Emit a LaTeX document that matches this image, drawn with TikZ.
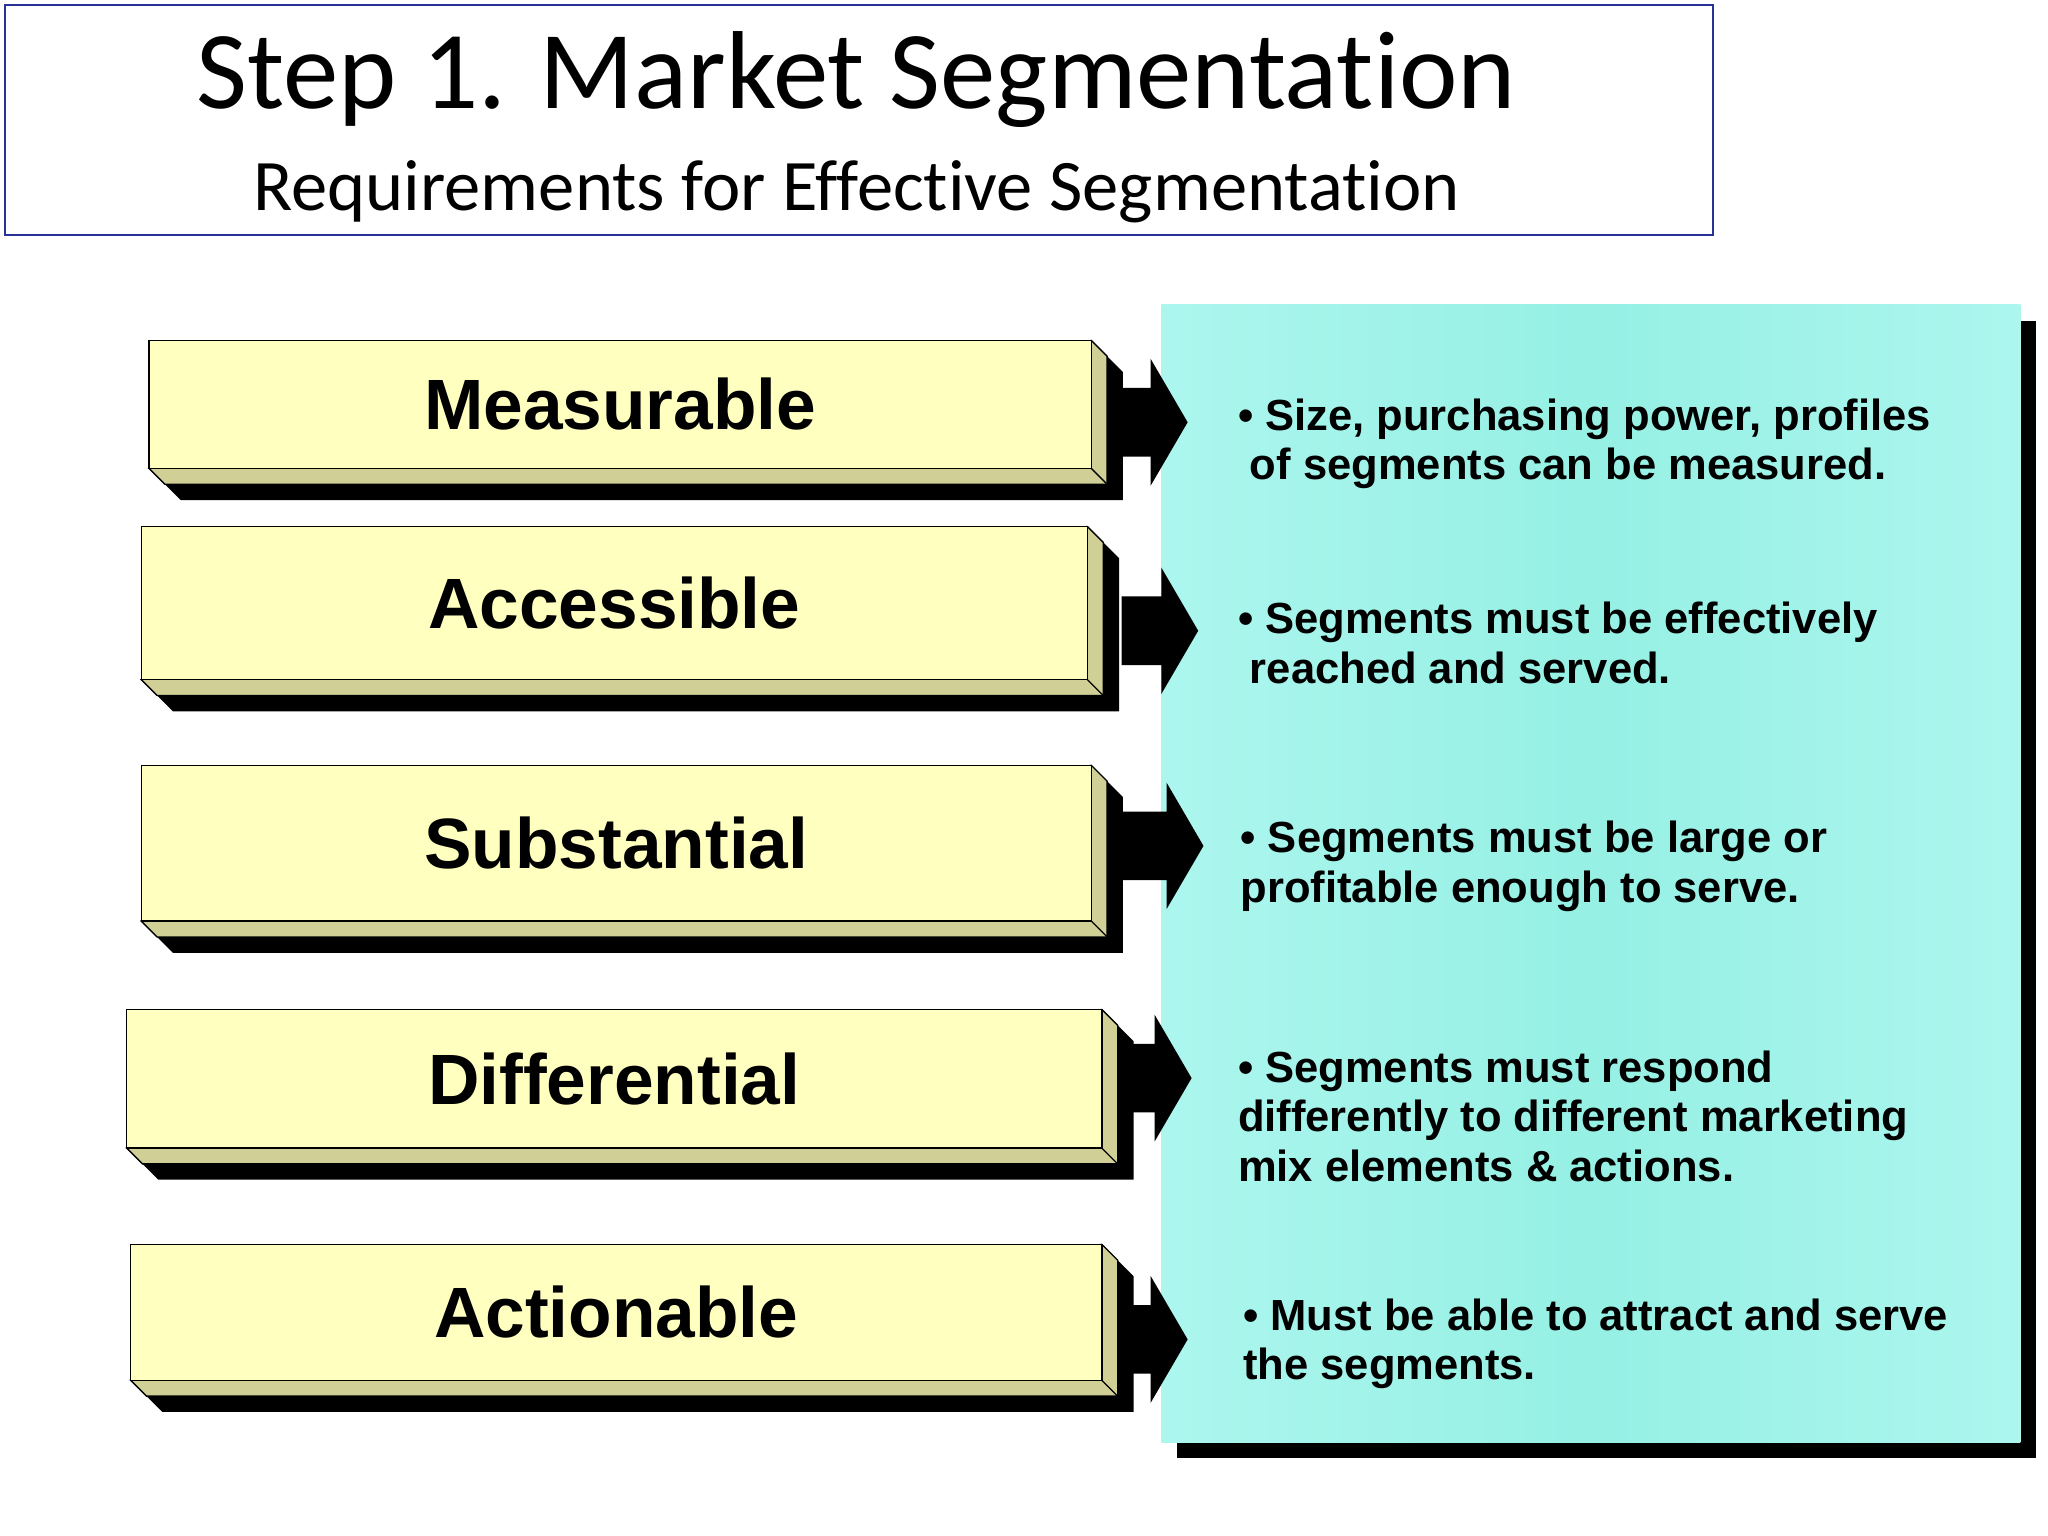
\documentclass[tikz,border=0pt]{standalone}
\usepackage{fontspec}
\setmainfont[Ligatures=NoCommon]{Carlito}
\newfontfamily\arial{Liberation Sans}
\definecolor{tboxblue}{RGB}{40,50,150}
\definecolor{cyanbox}{RGB}{150,240,228}
\definecolor{cyanlight}{RGB}{172,246,238}
\definecolor{barfront}{RGB}{255,255,192}
\definecolor{barside}{RGB}{208,208,150}
\begin{document}
\begin{tikzpicture}[x=1pt,y=-1pt,
  lbl/.style={font=\arial\bfseries\fontsize{54}{60}\selectfont},
  desc/.style={font=\arial\bfseries\fontsize{33}{37.5}\selectfont,align=left,anchor=north west,inner sep=0pt},
  blkarrow/.style={fill=black}]
\useasboundingbox (0,0) rectangle (1552,1164);
\fill[white] (0,0) rectangle (1552,1164);
% title
\node[draw=tboxblue,line width=1.5pt,minimum width=1294pt,minimum height=174pt,anchor=north west,inner sep=0pt] (title) at (3,3) {};
\node[font=\fontsize{84}{90}\selectfont] (t1) at (649,60) {Step 1. Market Segmentation};
\node[font=\fontsize{55}{60}\selectfont] (t2) at (649,145) {Requirements for Effective Segmentation};
% cyan box
\fill[black] (892,243) rectangle (1543,1105);
\shade[left color=cyanlight,right color=cyanlight,middle color=cyanbox] (880,231) rectangle (1531,1093);
\node[minimum width=651pt,minimum height=862pt,anchor=north west,inner sep=0pt] (info) at (880,231) {};
% bars
\foreach \n/\xa/\ya/\xb/\yb/\t in {m/113/258/827/355/Measurable,a/107/399/824/515/Accessible,s/107/580/827/698/Substantial,d/96/765/835/870/Differential,c/99/943/835/1046/Actionable}{
  \fill[black] (\xa+12,\yb+12) -- (\xa+24,\yb+24) -- (\xb+24,\yb+24) -- (\xb+24,\ya+24) -- (\xb+12,\ya+12) -- cycle;
  \draw[fill=barside,line width=1pt] (\xb,\ya) -- (\xb+12,\ya+12) -- (\xb+12,\yb+12) -- (\xa+12,\yb+12) -- (\xa,\yb) -- cycle;
  \draw[line width=1pt] (\xb,\yb) -- (\xb+12,\yb+12);
  \draw[fill=barfront,line width=1pt] (\xa,\ya) rectangle (\xb,\yb);
  \node[lbl] (\n) at ({(\xa+\xb)/2},{(\ya+\yb)/2}) {\t};
}
% arrows
\foreach \yc/\tip in {320/900,478/908,641/912,817/903,1015/900}{
  \fill[blkarrow] (850,\yc-26) -- (\tip-28,\yc-26) -- (\tip-28,\yc-48) -- (\tip,\yc) -- (\tip-28,\yc+48) -- (\tip-28,\yc+26) -- (850,\yc+26) -- cycle;
}
% descriptions
\node[desc] (dm) at (938,302) {• Size, purchasing power, profiles\\\hspace*{9pt}of segments can be measured.};
\node[desc] (da) at (938,456) {• Segments must be effectively\\\hspace*{9pt}reached and served.};
\node[desc] (ds) at (940,622) {• Segments must be large or\\profitable enough to serve.};
\node[desc] (dd) at (938,796) {• Segments must respond\\differently to different marketing\\mix elements \& actions.};
\node[desc] (dc) at (942,984) {• Must be able to attract and serve\\the segments.};
\end{tikzpicture}
\end{document}
